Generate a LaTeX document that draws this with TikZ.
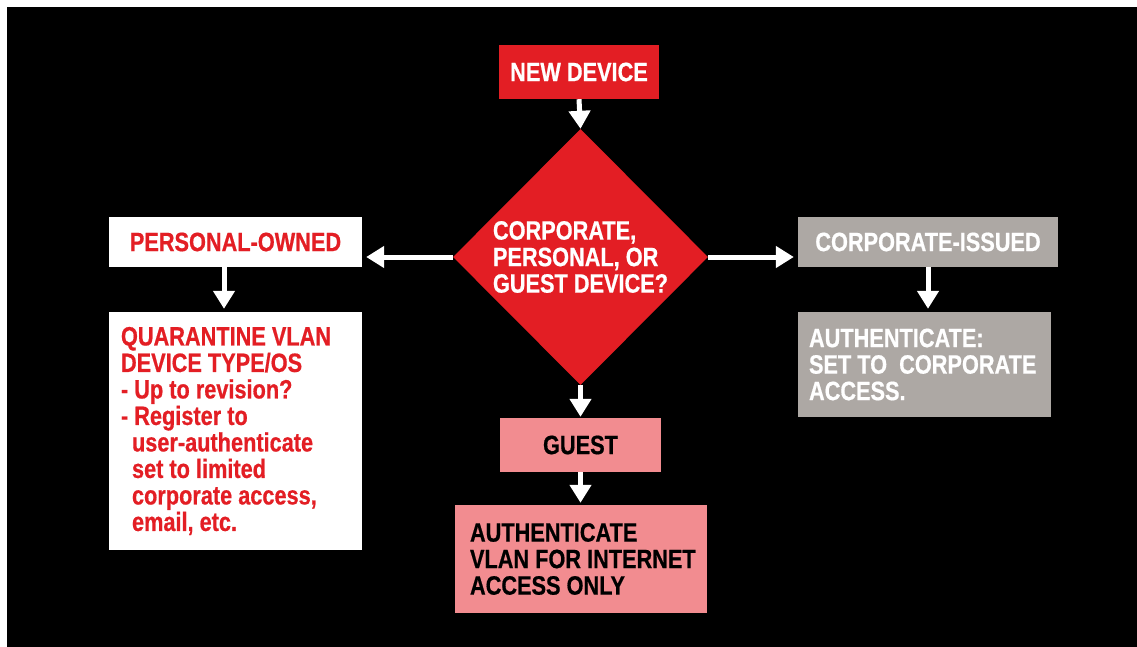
\documentclass[tikz,border=0pt]{standalone}
\usepackage{fontspec}
\setmainfont{Liberation Sans}[FakeStretch=0.82, BoldFeatures={FakeBold=0.6}]
\usetikzlibrary{shapes.geometric,arrows.meta}
\definecolor{cred}{RGB}{227,30,36}
\definecolor{cgray}{RGB}{173,168,164}
\definecolor{cpink}{RGB}{242,140,144}
\begin{document}
\begin{tikzpicture}[x=1pt,y=-1pt,
  every node/.style={font=\fontsize{26.5}{26.5}\selectfont\bfseries},
  box/.style={rectangle, inner sep=0pt, draw=none},
  txt/.style={inner sep=0pt, align=left, anchor=west},
  arr/.style={draw=white, line width=5pt, -{Triangle[width=21pt,length=18pt]}}
]
\useasboundingbox (0,0) rectangle (1137,647);
\fill[white] (0,0) rectangle (1137,647);
\fill[black] (7,7) rectangle (1137,647);

\node[box, fill=cred, text=white, minimum width=160pt, minimum height=54pt] (new) at (579,72) {NEW DEVICE};
\node[diamond, fill=cred, text=white, inner sep=0pt, minimum width=255pt, minimum height=256pt, align=left] (dec) at (580.5,257) {CORPORATE,\\PERSONAL, OR\\GUEST DEVICE?};

\node[box, fill=white, text=cred, minimum width=253pt, minimum height=50pt] (pers) at (235.5,242) {PERSONAL-OWNED};
\node[box, fill=white, minimum width=253pt, minimum height=238pt] (quar) at (235.5,431) {};
\node[txt, text=cred] (quartxt) at ([xshift=12pt]quar.west) {QUARANTINE VLAN\\DEVICE TYPE/OS\\- Up to revision?\\- Register to\\\hspace*{11pt}user-authenticate\\\hspace*{11pt}set to limited\\\hspace*{11pt}corporate access,\\\hspace*{11pt}email, etc.};

\node[box, fill=cgray, text=white, minimum width=260pt, minimum height=50pt] (corp) at (928,242) {CORPORATE-ISSUED};
\node[box, fill=cgray, minimum width=253pt, minimum height=105pt] (auth) at (924.5,364.5) {};
\node[txt, text=white] (authtxt) at ([xshift=11pt]auth.west) {AUTHENTICATE:\\SET TO~ CORPORATE\\ACCESS.};

\node[box, fill=cpink, text=black, minimum width=161pt, minimum height=54pt] (guest) at (580.5,445) {GUEST};
\node[box, fill=cpink, minimum width=252pt, minimum height=108pt] (vlan) at (581,559) {};
\node[txt, text=black] (vlantxt) at ([xshift=15pt]vlan.west) {AUTHENTICATE\\VLAN FOR INTERNET\\ACCESS ONLY};

\draw[arr] (new.south) -- (dec.north);
\draw[arr, shorten >=4pt] (dec.west) -- (dec.west -| pers.east);
\draw[arr, shorten >=4pt] (dec.east) -- (dec.east -| corp.west);
\draw[arr, shorten >=1pt] (dec.south) -- (dec.south |- guest.north);
\draw[arr, shorten >=2pt] (guest.south) -- (guest.south |- vlan.north);
\draw[arr, shorten >=3pt] ([xshift=-11.5pt]pers.south) -- ([xshift=-11.5pt]quar.north);
\draw[arr, shorten >=3pt] (corp.south) -- (corp.south |- auth.north);
\end{tikzpicture}
\end{document}
